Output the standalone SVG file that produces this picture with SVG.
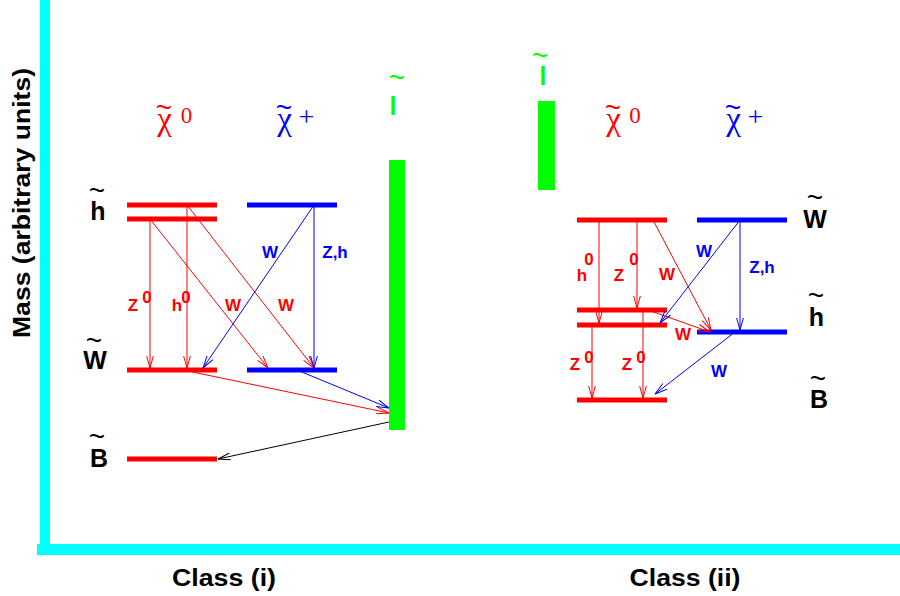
<svg xmlns="http://www.w3.org/2000/svg" width="900" height="596" viewBox="0 0 900 596">
<style>
.lvR{stroke:#ff0000;stroke-width:5;fill:none}
.lvB{stroke:#0000ff;stroke-width:5;fill:none}
.cR{stroke:#ff0000;stroke-width:1;fill:none}
.cB{stroke:#0000ff;stroke-width:1;fill:none}
.cK{stroke:#000000;stroke-width:1;fill:none}
.sm{font-family:"Liberation Sans",Arial,sans-serif;font-weight:bold;font-size:17px;text-anchor:middle}
.big{font-family:"Liberation Sans",Arial,sans-serif;font-weight:bold;font-size:25px;text-anchor:middle}
.t{font-family:"Liberation Sans",Arial,sans-serif;font-weight:normal;font-size:28px}
.gr{font-family:"Liberation Serif","Times New Roman",serif;font-size:33px;text-anchor:middle}
.s{font-size:23px}
.p{font-size:28px}
.ax{font-family:"Liberation Sans",Arial,sans-serif;font-weight:bold;font-size:23px;text-anchor:middle;fill:#000}
.red{fill:#ff0000}.blue{fill:#0000ff}.green{fill:#00ff00}.black{fill:#000000}
</style>
<defs>
<marker id="mR" viewBox="0 0 13 8" refX="12.5" refY="4" markerWidth="13" markerHeight="8" markerUnits="userSpaceOnUse" orient="auto"><path d="M0,0.5 L12.5,4 L0,7.5" fill="none" stroke="#ff0000" stroke-width="1"/></marker>
<marker id="mB" viewBox="0 0 13 8" refX="12.5" refY="4" markerWidth="13" markerHeight="8" markerUnits="userSpaceOnUse" orient="auto"><path d="M0,0.5 L12.5,4 L0,7.5" fill="none" stroke="#0000ff" stroke-width="1"/></marker>
<marker id="mK" viewBox="0 0 13 8" refX="12.5" refY="4" markerWidth="13" markerHeight="8" markerUnits="userSpaceOnUse" orient="auto"><path d="M0,0.5 L12.5,4 L0,7.5" fill="none" stroke="#000000" stroke-width="1"/></marker>
</defs>
<rect width="900" height="596" fill="#ffffff"/>

<g id="axes">
<rect x="40" y="0" width="10" height="555" fill="#00ffff"/>
<rect x="37" y="544" width="863" height="11" fill="#00ffff"/>
<text class="ax" transform="translate(30,203) rotate(-90)" textLength="270" lengthAdjust="spacingAndGlyphs">Mass (arbitrary units)</text>
<text class="ax" x="224" y="586" textLength="104" lengthAdjust="spacingAndGlyphs">Class (i)</text>
<text class="ax" x="685" y="586" textLength="111" lengthAdjust="spacingAndGlyphs">Class (ii)</text>
</g>

<g id="headers">
<text class="gr red"><tspan class="t" x="164" y="117">~</tspan><tspan x="164.5" y="130">χ</tspan><tspan class="s" x="186.5" y="123">0</tspan></text>
<text class="gr blue"><tspan class="t" x="284" y="117">~</tspan><tspan x="284.5" y="130">χ</tspan><tspan class="p" x="306.5" y="126">+</tspan></text>
<text class="gr red"><tspan class="t" x="613" y="117">~</tspan><tspan x="613.5" y="130">χ</tspan><tspan class="s" x="635" y="123">0</tspan></text>
<text class="gr blue"><tspan class="t" x="733" y="117">~</tspan><tspan x="733.5" y="130">χ</tspan><tspan class="p" x="755.5" y="126">+</tspan></text>
</g>

<g id="species-left">
<text class="big black"><tspan class="t" x="97" y="200">~</tspan><tspan x="98" y="220">h</tspan></text>
<text class="big black"><tspan class="t" x="94" y="350">~</tspan><tspan x="95" y="369">W</tspan></text>
<text class="big black"><tspan class="t" x="97" y="446">~</tspan><tspan x="99" y="467">B</tspan></text>
</g>

<g id="species-right">
<text class="big black"><tspan class="t" x="815" y="207">~</tspan><tspan x="815" y="228">W</tspan></text>
<text class="big black"><tspan class="t" x="816" y="305">~</tspan><tspan x="816.5" y="326">h</tspan></text>
<text class="big black"><tspan class="t" x="818" y="388">~</tspan><tspan x="819" y="408">B</tspan></text>
</g>

<g id="slepton-left">
<rect x="389" y="160" width="16" height="270" fill="#00ff00"/>
<text class="big green" font-size="27"><tspan class="t" x="397" y="87">~</tspan><tspan x="393" y="115">l</tspan></text>
</g>

<g id="slepton-right">
<rect x="538" y="101" width="17" height="89" fill="#00ff00"/>
<text class="big green" font-size="27"><tspan class="t" x="540" y="65">~</tspan><tspan x="543" y="85">l</tspan></text>
</g>

<g id="left-h-neutral">
<line class="lvR" x1="127" y1="205" x2="217" y2="205"/>
<line class="lvR" x1="127" y1="219" x2="217" y2="219"/>
</g>
<g id="left-h-charged"><line class="lvB" x1="247" y1="205" x2="337" y2="205"/></g>
<g id="left-W-neutral"><line class="lvR" x1="127" y1="370" x2="217" y2="370"/></g>
<g id="left-W-charged"><line class="lvB" x1="247" y1="370" x2="337" y2="370"/></g>
<g id="left-B-neutral"><line class="lvR" x1="127" y1="459" x2="217" y2="459"/></g>

<g id="right-W-neutral"><line class="lvR" x1="577" y1="220" x2="667" y2="220"/></g>
<g id="right-W-charged"><line class="lvB" x1="697" y1="220" x2="787" y2="220"/></g>
<g id="right-h-neutral">
<line class="lvR" x1="577" y1="310" x2="667" y2="310"/>
<line class="lvR" x1="577" y1="325" x2="667" y2="325"/>
</g>
<g id="right-h-charged"><line class="lvB" x1="697" y1="332" x2="787" y2="332"/></g>
<g id="right-B-neutral"><line class="lvR" x1="577" y1="400" x2="667" y2="400"/></g>

<g id="connectors">
<line class="cR" x1="150" y1="219" x2="150" y2="368" marker-end="url(#mR)"/>
<line class="cR" x1="187" y1="205" x2="187" y2="368" marker-end="url(#mR)"/>
<line class="cR" x1="150" y1="219" x2="268" y2="368" marker-end="url(#mR)"/>
<line class="cR" x1="187" y1="205" x2="314" y2="368" marker-end="url(#mR)"/>
<line class="cB" x1="314" y1="205" x2="314" y2="368" marker-end="url(#mB)"/>
<line class="cB" x1="314" y1="205" x2="203" y2="368" marker-end="url(#mB)"/>
<line class="cR" x1="183" y1="370" x2="389" y2="413" marker-end="url(#mR)"/>
<line class="cB" x1="297" y1="370" x2="389" y2="408" marker-end="url(#mB)"/>
<line class="cK" x1="389" y1="422" x2="218" y2="459" marker-end="url(#mK)"/>

<line class="cR" x1="599" y1="220" x2="599" y2="323" marker-end="url(#mR)"/>
<line class="cR" x1="637" y1="220" x2="637" y2="308" marker-end="url(#mR)"/>
<line class="cR" x1="653" y1="220" x2="711" y2="330" marker-end="url(#mR)"/>
<line class="cR" x1="648" y1="310" x2="710" y2="332" marker-end="url(#mR)"/>
<line class="cB" x1="740" y1="220" x2="740" y2="330" marker-end="url(#mB)"/>
<line class="cB" x1="740" y1="220" x2="660" y2="323" marker-end="url(#mB)"/>
<line class="cR" x1="592" y1="325" x2="592" y2="398" marker-end="url(#mR)"/>
<line class="cR" x1="643" y1="310" x2="643" y2="398" marker-end="url(#mR)"/>
<line class="cB" x1="735" y1="332" x2="655" y2="394" marker-end="url(#mB)"/>
</g>

<g id="connector-labels">
<text class="sm blue" x="270" y="258">W</text>
<text class="sm blue" x="335" y="258">Z,h</text>
<text class="sm red"><tspan x="133" y="311">Z</tspan><tspan x="147" y="303">0</tspan></text>
<text class="sm red"><tspan x="177" y="311">h</tspan><tspan x="186" y="303">0</tspan></text>
<text class="sm red" x="233" y="311">W</text>
<text class="sm red" x="286" y="311">W</text>

<text class="sm red"><tspan x="582" y="281">h</tspan><tspan x="589" y="265">0</tspan></text>
<text class="sm red"><tspan x="619" y="281">Z</tspan><tspan x="634" y="265">0</tspan></text>
<text class="sm red" x="667" y="280">W</text>
<text class="sm blue" x="704" y="257">W</text>
<text class="sm blue" x="762" y="273">Z,h</text>
<text class="sm red" x="683" y="340">W</text>
<text class="sm red"><tspan x="575" y="370">Z</tspan><tspan x="589" y="363">0</tspan></text>
<text class="sm red"><tspan x="627" y="370">Z</tspan><tspan x="641" y="363">0</tspan></text>
<text class="sm blue" x="719" y="377">W</text>
</g>
</svg>
